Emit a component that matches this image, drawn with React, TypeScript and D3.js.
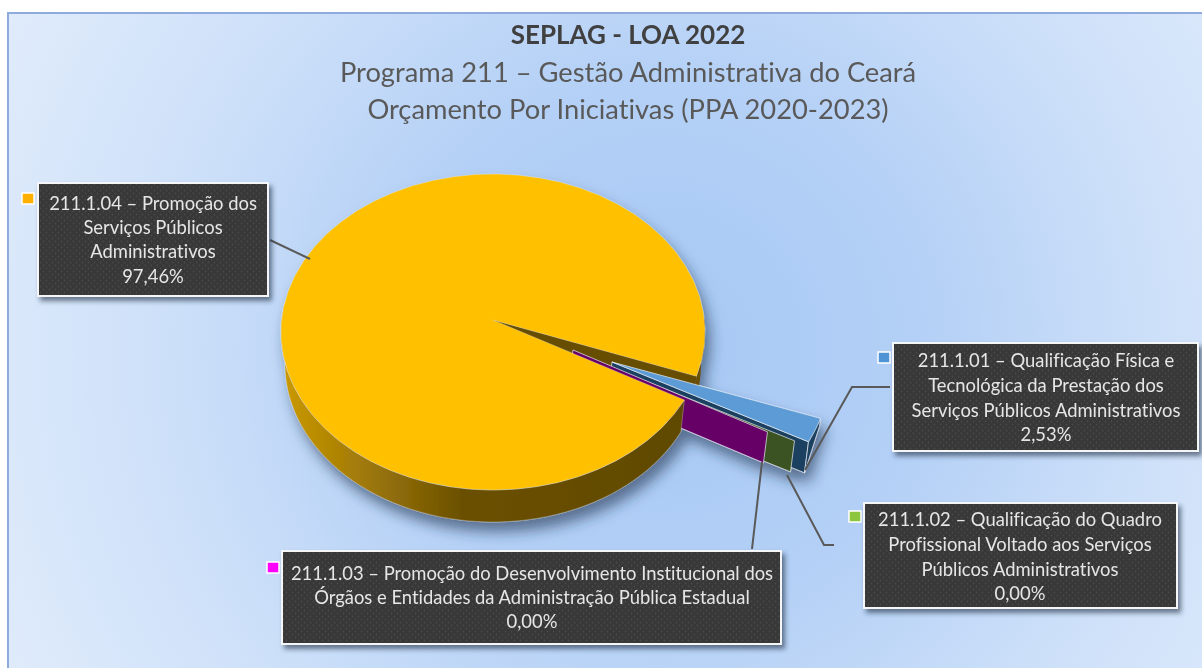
import React from "react";
import * as d3 from "d3";

const titleLines = ["SEPLAG - LOA 2022", "Programa 211 – Gestão Administrativa do Ceará", "Orçamento Por Iniciativas (PPA 2020-2023)"];
const categories = ["211.1.01", "211.1.02", "211.1.03", "211.1.04"];
const values = [2.53, 0.005, 0.005, 97.46];
const percentLabels = ["2,53%", "0,00%", "0,00%", "97,46%"];
const labelTexts = [
  ["211.1.01 – Qualificação Física e", "Tecnológica da Prestação dos", "Serviços Públicos Administrativos"],
  ["211.1.02 – Qualificação do Quadro", "Profissional Voltado aos Serviços", "Públicos Administrativos"],
  ["211.1.03 – Promoção do Desenvolvimento Institucional dos", "Órgãos e Entidades da Administração Pública Estadual"],
  ["211.1.04 – Promoção dos", "Serviços Públicos", "Administrativos"],
];
const topColors = ["#5b9bd5", "#70ad47", "#8a0a8a", "#ffc000"];
const keyColors = ["#4f94d4", "#8cc63f", "#ff00ff", "#ffb000"];
const wallColors = ["#1f3f5f", "#3b5320", "#660066", "#664d00"];

const boxes = [
  { x: 893, y: 343, w: 305, h: 108, cx: 1046, base: [367, 392, 417, 441], key: [878, 352], leader: [[805, 470], [852, 387], [890, 387]] },
  { x: 864, y: 503, w: 313, h: 105, cx: 1020, base: [526, 551, 576, 600], key: [849, 511], leader: [[787, 475], [824, 545], [834, 545]] },
  { x: 282, y: 551, w: 499, h: 93, cx: 532, base: [580, 604, 628], key: [267, 562], leader: [[762, 462], [752, 549]] },
  { x: 38, y: 183, w: 230, h: 113, cx: 153, base: [210, 234, 258, 283], key: [22, 193], leader: [[270, 240], [310, 259]] },
];

const cx = 493, cy = 332, rx = 212, ry = 158;
const apex: [number, number] = [493, 320];
const botCy = 364, botRx = 208;
const depth = 31, shrink = 4;
const deg = Math.PI / 180;

const rimAt = (a: number): [number, number] => [cx + rx * Math.sin(a), cy - ry * Math.cos(a)];
const botAt = (a: number): [number, number] => [cx + botRx * Math.sin(a), botCy - ry * Math.cos(a)];
const line = d3.line();
const poly = (pts: [number, number][]) => line(pts) + "Z";
const shift = (p: [number, number], o: number[]): [number, number] => [p[0] + o[0], p[1] + o[1]];
const down = (p: [number, number]): [number, number] => [p[0] - shrink, p[1] + depth];
const sweep = (a0: number, a1: number) => d3.range(0, 61).map((i) => a0 + ((a1 - a0) * i) / 60);

const arcs = d3.pie<number>().sort(null).startAngle(106.3 * deg).endAngle(106.3 * deg + 2 * Math.PI)(values);
const [blue, green, purple, yellow] = arcs;

const blueApexShift = [119, 42], blueRimShift = [124, 42];
const greenApexShift = [110, 44], greenRimShift = [110, 41];
const purpleApexShift = [80, 30], purpleRimShift = [83, 32];

const edge = "#e9eff6";
const bodyFont = "Lato, 'Open Sans', sans-serif";

export default function App() {
  const yStart = yellow.startAngle, yEnd = yellow.endAngle;
  const blueA = shift(apex, blueApexShift);
  const blueTop = sweep(blue.startAngle, blue.endAngle).map((a) => shift(rimAt(a), blueRimShift));
  const bRimA = blueTop[0], bRimB = blueTop[blueTop.length - 1];
  const gRim = shift(rimAt(green.startAngle), greenRimShift);
  const gApex = shift(apex, greenApexShift);
  const pRim = shift(rimAt(purple.startAngle), purpleRimShift);
  const pApex = shift(apex, purpleApexShift);
  const yUpper = rimAt(yEnd);

  const leftA = sweep(yStart, 280 * deg);
  const leftBand = poly([...leftA.map(rimAt), ...leftA.slice().reverse().map(botAt)]);
  const rightA = sweep(445 * deg, yEnd);
  const rightBand = poly([...rightA.map(rimAt), ...rightA.slice().reverse().map(botAt)]);
  const yTop = poly([apex, ...sweep(yStart, yEnd).map(rimAt)]);

  return (
    <svg width={1202} height={668} style={{ position: "absolute", left: 0, top: 0, display: "block", filter: "blur(0.5px)", fontVariantLigatures: "none" }}>
      <defs>
        <radialGradient id="bg" gradientUnits="userSpaceOnUse" cx={660} cy={350} r={760}>
          <stop offset="0" stopColor="#a6c8f4" />
          <stop offset="0.35" stopColor="#b4d0f6" />
          <stop offset="0.65" stopColor="#cde0f9" />
          <stop offset="1" stopColor="#e2edfb" />
        </radialGradient>
        <linearGradient id="wall" gradientUnits="userSpaceOnUse" x1={281} x2={683} y1={0} y2={0}>
          <stop offset="0" stopColor="#cc9a00" />
          <stop offset="0.25" stopColor="#96720a" />
          <stop offset="0.45" stopColor="#6b5000" />
          <stop offset="1" stopColor="#604900" />
        </linearGradient>
        <pattern id="dots" width={6} height={6} patternUnits="userSpaceOnUse">
          <rect width={6} height={6} fill="#383838" />
          <circle cx={1.5} cy={1.5} r={0.9} fill="#4a4a4a" />
          <circle cx={4.5} cy={4.5} r={0.9} fill="#4a4a4a" />
        </pattern>
        <filter id="pieShadow" x="-20%" y="-20%" width="140%" height="140%">
          <feDropShadow dx={5} dy={10} stdDeviation={7} floodColor="#1c3350" floodOpacity={0.6} />
        </filter>
        <filter id="boxShadow" x="-10%" y="-20%" width="120%" height="140%">
          <feDropShadow dx={3} dy={4} stdDeviation={2.5} floodColor="#1c2c40" floodOpacity={0.6} />
        </filter>
      </defs>

      <rect x={0} y={0} width={1202} height={668} fill="#ffffff" />
      <rect x={8} y={13} width={1300} height={800} fill="url(#bg)" stroke="#8faadc" strokeWidth={2} />

      <g filter="url(#pieShadow)">
        <path d={rightBand} fill="#6b5000" />
        <path d={poly([apex, yUpper, down(yUpper), down(apex)])} fill={wallColors[3]} />

        <path d={poly([blueA, bRimB, down(bRimB), down(blueA)])} fill={wallColors[0]} stroke={edge} strokeWidth={0.7} />
        <path d={poly([bRimA, bRimB, down(bRimB), [bRimA[0] - 1, bRimA[1] + 8]])} fill={wallColors[0]} stroke={edge} strokeWidth={0.7} />
        <path d={poly([blueA, ...blueTop])} fill={topColors[0]} stroke={edge} strokeWidth={0.7} />

        <path d={poly([gApex, gRim, down(gRim), down(gApex)])} fill={wallColors[1]} stroke={edge} strokeWidth={0.7} />
        <path d={poly([pApex, pRim, down(pRim), down(pApex)])} fill={wallColors[2]} stroke={edge} strokeWidth={0.7} />

        <path d={leftBand} fill="url(#wall)" stroke={edge} strokeWidth={0.5} strokeOpacity={0.6} />
        <path d={yTop} fill={topColors[3]} stroke={edge} strokeWidth={0.5} strokeOpacity={0.6} />
      </g>

      {boxes.map((b, i) => (
        <polyline key={i} points={b.leader.join(" ")} fill="none" stroke="#595959" strokeWidth={2} />
      ))}

      {boxes.map((b, i) => (
        <g key={categories[i]}>
          <rect x={b.key[0]} y={b.key[1]} width={12} height={11} fill={keyColors[i]} stroke="#ffffff" strokeWidth={1.5} />
          <rect x={b.x} y={b.y} width={b.w} height={b.h} fill="url(#dots)" stroke="#f4f6f8" strokeWidth={2} filter="url(#boxShadow)" />
          {[...labelTexts[i], percentLabels[i]].map((t, j) => (
            <text key={j} x={b.cx} y={b.base[j]} textAnchor="middle" fill="#e6e6e6" fontFamily={bodyFont} fontSize={18.4}>{t}</text>
          ))}
        </g>
      ))}

      <text x={628} y={44} textAnchor="middle" fontFamily={bodyFont} fontWeight={700} fontSize={26} fill="#404040">{titleLines[0]}</text>
      <text x={628} y={82} textAnchor="middle" fontFamily={bodyFont} fontSize={27.3} fill="#595959">{titleLines[1]}</text>
      <text x={628} y={119} textAnchor="middle" fontFamily={bodyFont} fontSize={27.3} fill="#595959">{titleLines[2]}</text>
    </svg>
  );
}
